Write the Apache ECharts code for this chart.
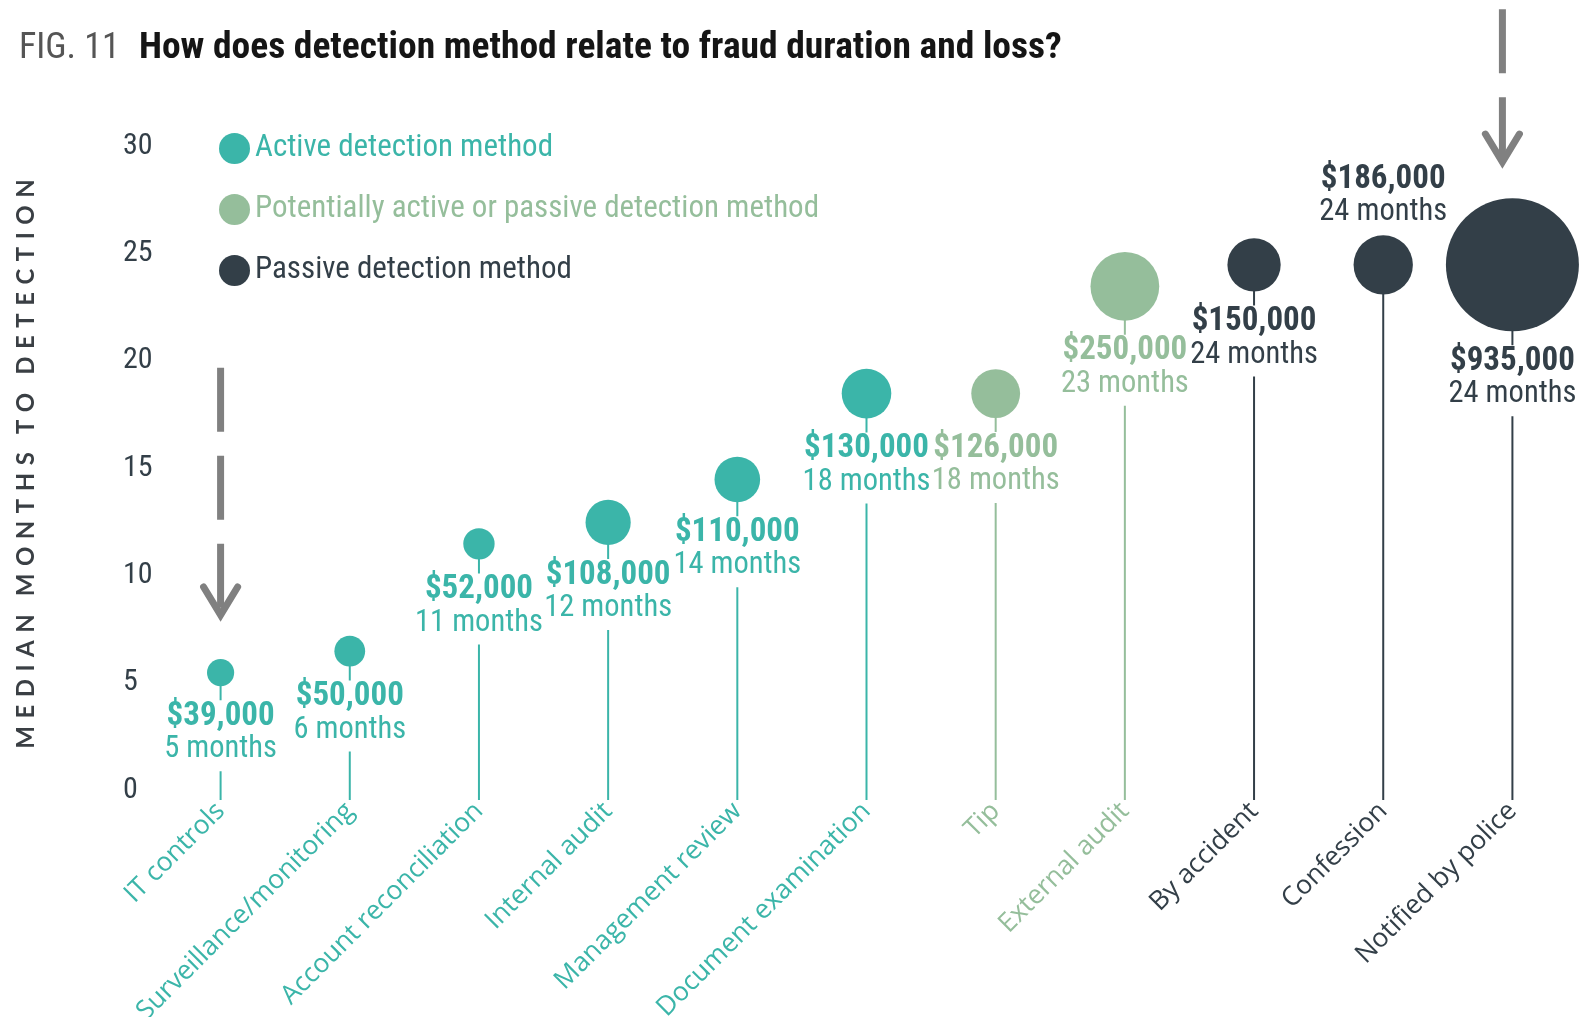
<!DOCTYPE html>
<html>
<head>
<meta charset="utf-8">
<script src="https://cdn.jsdelivr.net/npm/echarts@6/dist/echarts.min.js"></script>
<style>
html, body { margin: 0; padding: 0; background: #fff; }
#main { width: 1581px; height: 1017px; }
</style>
</head>
<body>
<div id="main"></div>
<script>
// data
const categories = ['IT controls', 'Surveillance/monitoring', 'Account reconciliation', 'Internal audit',
    'Management review', 'Document examination', 'Tip', 'External audit', 'By accident', 'Confession', 'Notified by police'];
const months = [5, 6, 11, 12, 14, 18, 18, 23, 24, 24, 24];
const losses = [39000, 50000, 52000, 108000, 110000, 130000, 126000, 250000, 150000, 186000, 935000];
const methodType = [0, 0, 0, 0, 0, 0, 1, 1, 2, 2, 2];
const typeNames = ['Active detection method', 'Potentially active or passive detection method', 'Passive detection method'];
const labelAbove = ['Confession'];
// annotation arrows: [category index, start months, tip months]
const arrows = [[0, 19.2, 7.5], [10, 35.9, 28.6]];
const arrowShift = [0, -10];

const colors = ['#3bb5a9', '#95be9b', '#333f48'];
const narrow = '"Liberation Sans Narrow", "Roboto Condensed", "Arial Narrow", sans-serif';
const fmt = n => '$' + n.toLocaleString('en-US');
const spaced = s => s.split(' ').map(w => w.split('').join('\u2005\u200A')).join('\u2003');

const myChart = echarts.init(document.getElementById('main'));

const scatterSeries = typeNames.map((name, t) => ({
    name: name,
    type: 'scatter',
    z: 4,
    itemStyle: { color: colors[t], opacity: 1 },
    symbolSize: d => 4.35 * Math.sqrt(d[2] / 1000),
    label: {
        show: true,
        position: 'bottom',
        distance: 14,
        color: colors[t],
        backgroundColor: '#fff',
        padding: [0, 2, 5, 2],
        formatter: p => '{a|' + fmt(p.data.value[2]) + '}\n{b|' + p.data.value[1] + ' months}',
        rich: {
            a: { fontFamily: narrow, fontSize: 33, fontWeight: 'bold', lineHeight: 33, color: colors[t] },
            b: { fontFamily: narrow, fontSize: 30.5, lineHeight: 33, color: colors[t] }
        }
    },
    data: categories.map((c, i) => ({ i: i, c: c }))
        .filter(o => methodType[o.i] === t)
        .map(o => {
            const item = { value: [o.c, months[o.i], losses[o.i]] };
            if (labelAbove.indexOf(o.c) >= 0) item.label = { position: 'top', distance: 6, padding: [0, 2, 0, 2] };
            return item;
        })
}));

const _ = {
    animation: false,
    backgroundColor: '#fff',
    title: {
        left: 14,
        top: 25,
        text: '{a|FIG. 11}{b|How does detection method relate to fraud duration and loss?}',
        textStyle: {
            rich: {
                a: { fontFamily: narrow, fontSize: 36, color: '#555', fontWeight: 'normal' },
                b: { fontFamily: narrow, fontSize: 37.5, color: '#151515', fontWeight: 'bold', padding: [0, 0, 0, 19] }
            }
        }
    },
    legend: {
        orient: 'vertical',
        left: 214,
        top: 128,
        itemWidth: 31,
        itemHeight: 31,
        itemGap: 30,
        icon: 'circle',
        selectedMode: false,
        textStyle: { fontFamily: narrow, fontSize: 31 },
        data: typeNames.map((n, t) => ({ name: n, textStyle: { color: colors[t] } }))
    },
    grid: { left: 156, right: 4, top: 136, bottom: 237, outerBoundsMode: 'none' },
    xAxis: {
        type: 'category',
        data: categories,
        axisLine: { show: false },
        axisTick: { show: false },
        axisLabel: {
            interval: 0,
            rotate: 45,
            margin: 27,
            fontFamily: '"Open Sans", sans-serif',
            fontSize: 26.5,
            color: (v, i) => colors[methodType[categories.indexOf(v)]]
        }
    },
    yAxis: {
        type: 'value',
        min: 0,
        max: 30,
        interval: 5,
        name: spaced('MEDIAN MONTHS TO DETECTION'),
        nameLocation: 'middle',
        nameGap: 118,
        nameTextStyle: { fontFamily: 'Lato, sans-serif', fontWeight: 'bold', fontSize: 24, color: '#3a3f44', padding: [0, 12, 0, 0] },
        axisLine: { show: false },
        axisTick: { show: false },
        splitLine: { show: false },
        axisLabel: {
            align: 'left',
            verticalAlign: 'top',
            lineHeight: 20,
            margin: 33,
            fontFamily: narrow,
            fontSize: 30,
            color: '#333f48'
        }
    },
    series: [{
        name: 'stems',
        type: 'custom',
        z: 2,
        silent: true,
        clip: false,
        data: categories.map((c, i) => [i, months[i], methodType[i]]),
        renderItem: (params, api) => {
            const top = api.coord([api.value(0), api.value(1)]);
            const base = api.coord([api.value(0), 0]);
            return {
                type: 'line',
                shape: { x1: top[0], y1: top[1], x2: base[0], y2: base[1] + 20 },
                style: { stroke: colors[api.value(2)], lineWidth: 2 }
            };
        }
    }, {
        name: 'arrows',
        type: 'custom',
        z: 3,
        silent: true,
        clip: false,
        data: arrows,
        renderItem: (params, api) => {
            const a = api.coord([api.value(0), api.value(1)]);
            const b = api.coord([api.value(0), api.value(2)]);
            const x = a[0] + arrowShift[params.dataIndex];
            return {
                type: 'group',
                children: [{
                    type: 'line',
                    shape: { x1: x, y1: a[1], x2: x, y2: b[1] - 4 },
                    style: { stroke: '#808080', lineWidth: 7, lineDash: [64, 24] }
                }, {
                    type: 'polyline',
                    shape: { points: [[x - 17, b[1] - 32], [x, b[1] - 4], [x + 17, b[1] - 32]] },
                    style: { stroke: '#808080', fill: null, lineWidth: 7, lineCap: 'round', lineJoin: 'miter' }
                }]
            };
        }
    }].concat(scatterSeries)
};
myChart.setOption(_, true);
</script>
</body>
</html>
